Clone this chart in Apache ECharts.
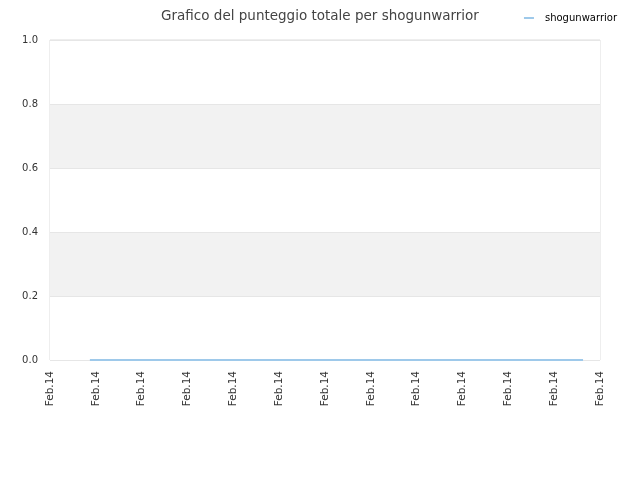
<!DOCTYPE html>
<html>
<head>
<meta charset="utf-8">
<script src="https://cdn.jsdelivr.net/npm/echarts@6/dist/echarts.min.js"></script>
<style>
  html, body { margin: 0; padding: 0; background: #fff; }
  #main { width: 640px; height: 480px; }
</style>
</head>
<body>
<div id="main"></div>
<script>
// x positions are in tick units (0..12), every tick is labelled Feb.14
var tickLabel = 'Feb.14';
var seriesName = 'shogunwarrior';
var xs = [0.87, 11.63];
var scores = [0, 0];

var domDiv = document.getElementById('main');
var myChart = echarts.init(domDiv);

var points = xs.map(function (x, i) { return [x, scores[i]]; });

var option = {
    animation: false,
    title: {
        text: 'Grafico del punteggio totale per shogunwarrior',
        left: 'center',
        top: 4,
        textStyle: { fontSize: 13.5, fontWeight: 'normal', color: '#444', fontFamily: 'DejaVu Sans' }
    },
    legend: {
        right: 18,
        top: 8,
        itemWidth: 10,
        itemHeight: 2,
        icon: 'rect',
        textStyle: { fontSize: 10, color: '#000', fontFamily: 'DejaVu Sans', padding: [0, 0, 0, 6] },
        data: [seriesName]
    },
    grid: {
        left: 50, right: 40, top: 40, bottom: 120,
        show: true, borderColor: '#ddd', borderWidth: 1
    },
    xAxis: {
        type: 'value',
        min: 0, max: 12, interval: 1,
        axisLine: { show: false },
        axisTick: { show: false },
        splitLine: { show: false },
        axisLabel: {
            rotate: 90, fontSize: 10.5, color: '#333', fontFamily: 'DejaVu Sans',
            margin: 11,
            formatter: function () { return tickLabel; }
        }
    },
    yAxis: {
        type: 'value',
        min: 0, max: 1, interval: 0.2,
        axisLine: { show: false },
        axisTick: { show: false },
        axisLabel: {
            fontSize: 10, color: '#333', fontFamily: 'DejaVu Sans', margin: 12,
            formatter: function (v) { return v.toFixed(1); }
        },
        splitLine: { show: true, lineStyle: { color: '#e6e6e6' } },
        splitArea: { show: true, areaStyle: { color: ['#ffffff', '#f2f2f2'] } }
    },
    series: [{
        name: seriesName,
        type: 'line',
        data: points,
        symbol: 'none',
        lineStyle: { color: '#9ec9ea', width: 2 },
        itemStyle: { color: '#9ec9ea' }
    }]
};
myChart.setOption(option);
</script>
</body>
</html>
